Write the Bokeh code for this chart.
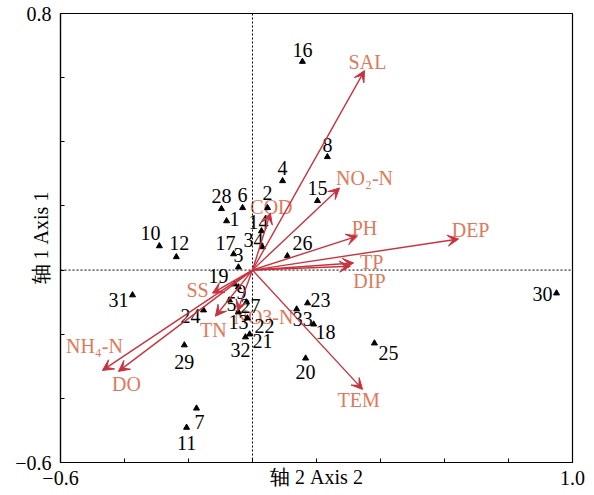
from bokeh.plotting import figure
from bokeh.models import (Range1d, FixedTicker, CustomJSTickFormatter, Span, Arrow,
                          VeeHead, ColumnDataSource)
from bokeh.core.properties import value
from bokeh.embed import file_html
from bokeh.resources import INLINE

# ---- sampling sites: scores on axis 2 (horizontal) and axis 1 (vertical)
site_ids = [str(i) for i in range(1, 35)]
site_axis2 = [-0.081, 0.047, -0.044, 0.094, -0.072, -0.031, -0.175, 0.234, -0.044, -0.291,
              -0.206, -0.238, -0.044, 0.028, 0.203, 0.156, -0.059, 0.191, -0.056, 0.166,
              -0.009, -0.016, 0.172, -0.153, 0.381, 0.109, -0.019, -0.097, -0.213, 0.950,
              -0.375, -0.022, 0.138, 0.031]
site_axis1 = [0.153, 0.194, 0.009, 0.278, -0.094, 0.194, -0.431, 0.353, -0.053, 0.075,
              -0.491, 0.041, -0.131, 0.122, 0.216, 0.650, 0.050, -0.169, -0.044, -0.275,
              -0.200, -0.150, -0.103, -0.125, -0.228, 0.044, -0.100, 0.191, -0.234, -0.072,
              -0.078, -0.209, -0.122, 0.072]

# ---- environmental factors (arrow tips)
env_names = ["SAL", "NO\u2082-N", "PH", "DEP", "TP", "DIP", "TEM", "COD", "SS",
             "NH\u2084-N", "DO", "TN", "NO3-N"]
env_axis2 = [0.350, 0.272, 0.328, 0.644, 0.316, 0.306, 0.344, 0.056, -0.125,
             -0.469, -0.419, -0.116, -0.047]
env_axis1 = [0.622, 0.256, 0.106, 0.097, 0.022, 0.012, -0.372, 0.178, -0.072,
             -0.313, -0.316, -0.144, -0.128]

x_ticks = [-0.6, -0.4, -0.2, 0.0, 0.2, 0.4, 0.6, 0.8, 1.0]
y_ticks = [-0.6, -0.4, -0.2, 0.0, 0.2, 0.4, 0.6, 0.8]
x_title = "\u8f74 2 Axis 2"
y_title = "\u8f74 1 Axis 1"

# label placement (pixels; dx to the right, dy downwards)
site_label_dx = [8, 0, 0, 0, 2, 0, 3, 0, 3, -9, 0, 3, 0, -3, 0, 0, -8, 12, -16, 0,
                 13, 17, 13, -13, 14, 15, 4, 0, 0, -14, -14, -5, 6, -9]
site_label_dy = [-2, -15, -12, -13, 4, -13, 14, -12, 5, -13, 15, -14, 10, -9, -13, -12, -11, 8, -8, 14,
                 7, 8, -3, 6, 10, -13, 4, -13, 17, 1, 5, 13, 10, -7]
env_label_dx = [3, 25, 7, 12, 18, 19, -4, 1, -15, -8, 8, -2, 26]
env_label_dy = [-9, -10, -8, -9, -1, 15, 11, -6, -3, -24, 13, 14, 6]

SERIF = "Liberation Serif"
ARROW_RED = "#c8323e"
LABEL_ORANGE = "#e0785a"

p = figure(width=594, height=495, output_backend="svg", toolbar_location=None,
           x_range=Range1d(-0.6, 1.0), y_range=Range1d(-0.6, 0.8),
           min_border_left=60, min_border_right=22, min_border_top=13, min_border_bottom=33)
p.grid.visible = False
p.outline_line_color = "black"
p.outline_line_width = 1.2
p.background_fill_color = "white"
p.border_fill_color = "white"

fmt = CustomJSTickFormatter(code="return tick.toFixed(1).replace('-', '\\u2212');")
for ax, ticks in ((p.xaxis[0], x_ticks), (p.yaxis[0], y_ticks)):
    ax.ticker = FixedTicker(ticks=[ticks[0], ticks[-1]], minor_ticks=ticks)
    ax.formatter = fmt
    ax.major_tick_in = 4
    ax.major_tick_out = 0
    ax.minor_tick_in = 4
    ax.minor_tick_out = 0
    ax.axis_line_width = 1.2
    ax.major_label_text_font = SERIF
    ax.major_label_text_font_size = "20px"
    ax.major_label_text_color = "black"
    ax.axis_label_text_font = SERIF
    ax.axis_label_text_font_size = "20px"
    ax.axis_label_text_font_style = "normal"
    ax.axis_label_text_color = "black"

p.xaxis.axis_label = x_title
p.yaxis.axis_label = y_title
p.xaxis.major_label_standoff = 8
p.yaxis.major_label_standoff = 9
p.xaxis.axis_label_standoff = -22
p.yaxis.axis_label_standoff = -40

# dotted zero lines
p.add_layout(Span(location=0, dimension="height", line_color="black", line_width=1, line_dash="2 2"))
p.add_layout(Span(location=0, dimension="width", line_color="black", line_width=1, line_dash="2 2"))

# environmental arrows
arrow_src = ColumnDataSource(dict(x0=[0.0] * len(env_names), y0=[0.0] * len(env_names),
                                  x1=env_axis2, y1=env_axis1))
p.add_layout(Arrow(end=VeeHead(size=11, fill_color=ARROW_RED, line_color=ARROW_RED),
                   x_start="x0", y_start="y0", x_end="x1", y_end="y1",
                   line_color=ARROW_RED, line_width=1.4, source=arrow_src))

env_src = ColumnDataSource(dict(x=env_axis2, y=env_axis1, t=env_names,
                                dx=env_label_dx, dy=env_label_dy))
p.text(x="x", y="y", text="t", x_offset="dx", y_offset="dy", source=env_src,
       text_font=value(SERIF), text_font_size="20px", text_color=LABEL_ORANGE,
       text_align="center", text_baseline="middle")

# sites
site_src = ColumnDataSource(dict(x=site_axis2, y=site_axis1, t=site_ids,
                                 dx=site_label_dx, dy=site_label_dy))
p.scatter(x="x", y="y", marker="triangle", size=6, color="black", source=site_src)
p.text(x="x", y="y", text="t", x_offset="dx", y_offset="dy", source=site_src,
       text_font=value(SERIF), text_font_size="20px", text_color="black",
       text_align="center", text_baseline="middle")

open("out.html", "w").write(file_html(p, INLINE))
